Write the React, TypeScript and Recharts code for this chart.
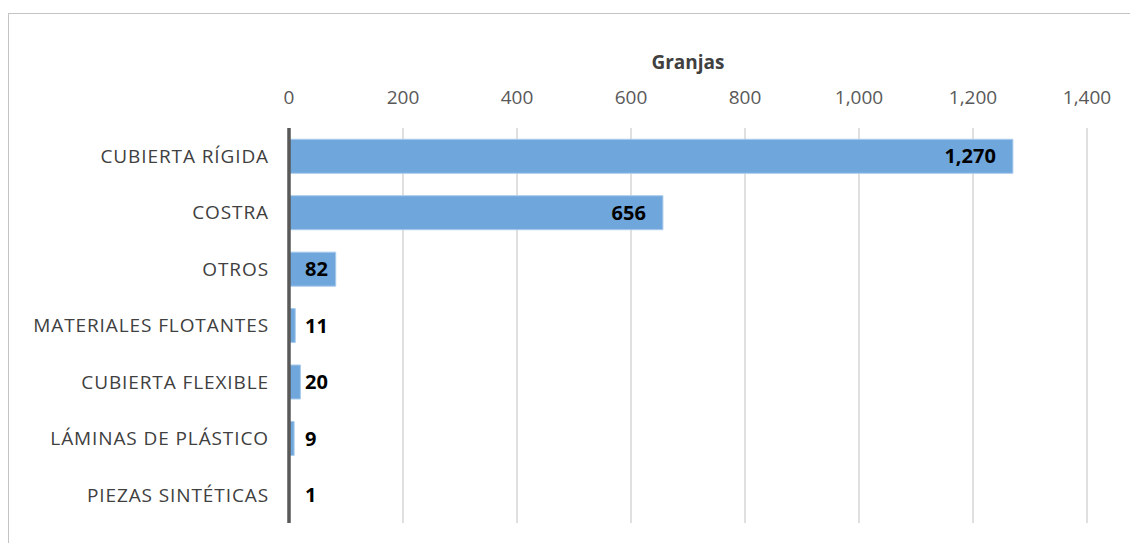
import { BarChart, Bar, XAxis, YAxis, CartesianGrid, LabelList } from 'recharts'

const categories = [
  'CUBIERTA RÍGIDA',
  'COSTRA',
  'OTROS',
  'MATERIALES FLOTANTES',
  'CUBIERTA FLEXIBLE',
  'LÁMINAS DE PLÁSTICO',
  'PIEZAS SINTÉTICAS',
]
const granjas = [1270, 656, 82, 11, 20, 9, 1]
const xTicks = [0, 200, 400, 600, 800, 1000, 1200, 1400]

const data = categories.map((name, i) => ({ name, value: granjas[i] }))

const FONT = 'Open Sans, Liberation Sans, sans-serif'
const fmt = (v: number) => v.toLocaleString('en-US')

// Excel style: inside end when it fits, else pushed just past the axis
const ValueLabel = (props: any) => {
  const { x, y, width, height, value } = props
  const text = fmt(value)
  const tw = text.replace(',', '').length * 12.5 + (text.includes(',') ? 5 : 0)
  const end = x + width - 17
  const minStart = x + 16
  const inside = end - tw >= minStart
  return (
    <text
      x={inside ? end : minStart}
      y={y + height / 2}
      dy="0.36em"
      textAnchor={inside ? 'end' : 'start'}
      fontFamily={FONT}
      fontWeight="bold"
      fontSize={20}
      fill="#000"
    >
      {text}
    </text>
  )
}

export default function App() {
  return (
    <div style={{ position: 'absolute', left: 0, top: 0, width: 1130, height: 543, background: '#fff' }}>
      <div
        style={{
          position: 'absolute',
          left: 8,
          top: 13,
          width: 1140,
          height: 540,
          borderTop: '1px solid #c4c4c4',
          borderLeft: '1px solid #c4c4c4',
        }}
      />
      <div
        style={{
          position: 'absolute',
          left: 289,
          width: 798,
          top: 48,
          textAlign: 'center',
          fontFamily: FONT,
          fontWeight: 'bold',
          fontSize: 19,
          lineHeight: '28px',
          color: '#404040',
        }}
      >
        Granjas
      </div>
      <div style={{ position: 'absolute', left: 0, top: 0 }}>
        <BarChart
          width={1130}
          height={543}
          data={data}
          layout="vertical"
          margin={{ top: 70, right: 43, bottom: 20, left: 0 }}
          barCategoryGap="20%"
        >
          <CartesianGrid horizontal={false} stroke="#d6d6d6" strokeWidth={1.5} />
          <XAxis
            type="number"
            orientation="top"
            domain={[0, 1400]}
            ticks={xTicks}
            tickFormatter={fmt}
            axisLine={false}
            tickLine={false}
            height={58}
            tickSize={0}
            tickMargin={24}
            tick={{ fontFamily: FONT, fontSize: 19, fill: '#595959' }}
          />
          <YAxis
            type="category"
            dataKey="name"
            width={289}
            axisLine={{ stroke: '#595959', strokeWidth: 3.5 }}
            tickLine={false}
            tickSize={0}
            tickMargin={20}
            tick={{ fontFamily: FONT, fontSize: 19, fill: '#404040', letterSpacing: 0.9 }}
          />
          <Bar dataKey="value" fill="#6FA6DC" stroke="#A9CBEC" strokeWidth={1} isAnimationActive={false}>
            <LabelList dataKey="value" content={ValueLabel} />
          </Bar>
        </BarChart>
      </div>
    </div>
  )
}
